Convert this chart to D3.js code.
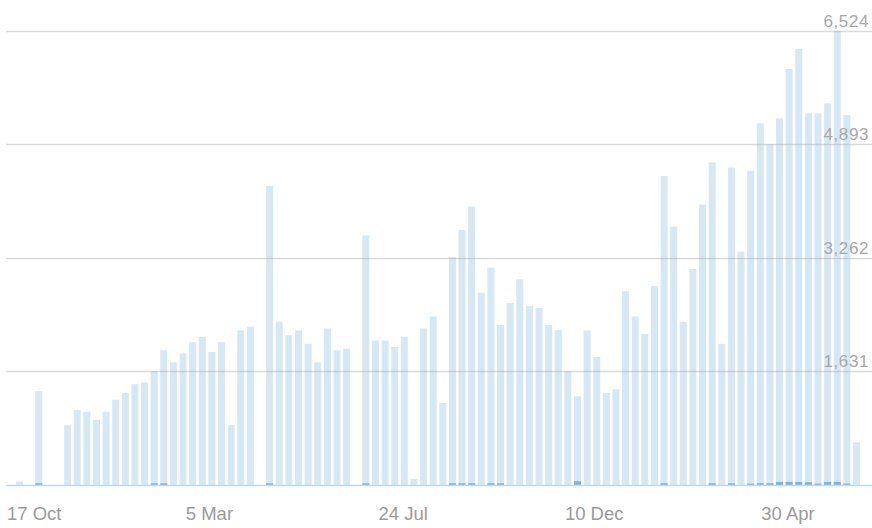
<!DOCTYPE html>
<html>
<head>
<meta charset="utf-8">
<script src="https://cdn.jsdelivr.net/npm/d3@7"></script>
<style>
  body { margin: 0; background: #fff; }
  svg { display: block; }
  .tick-label { font-family: "Liberation Sans", Arial, sans-serif; fill: #9a9a9a; }
</style>
</head>
<body>
<svg id="chart" width="872" height="528"></svg>
<script>
// weekly totals, first week starting 17 Oct 2015
const startDate = new Date(2015, 9, 17);
const totals = [
  53, 0, 1351, 0, 0, 859, 1076, 1052, 936, 1052,
  1226, 1322, 1448, 1472, 1636, 1935, 1761, 1887, 2051, 2128,
  1911, 2051, 859, 2220, 2273, 0, 4295, 2345, 2152, 2220,
  2027, 1761, 2249, 1935, 1959, 0, 3585, 2075, 2075, 1983,
  2128, 87, 2249, 2422, 1177, 3272, 3663, 4000, 2760, 3122,
  2297, 2615, 2953, 2567, 2543, 2297, 2224, 1636, 1274, 2220,
  1838, 1322, 1375, 2784, 2422, 2171, 2857, 4439, 3711, 2345,
  3103, 4029, 4632, 2027, 4560, 3349, 4512, 5192, 4898, 5265,
  5974, 6263, 5337, 5337, 5482, 6524, 5313, 613
];
// small second series drawn at the foot of the bars
const secondary = [
  0, 0, 25, 0, 0, 0, 0, 0, 0, 0,
  0, 0, 0, 0, 25, 25, 0, 0, 0, 0,
  0, 0, 0, 0, 0, 0, 25, 0, 0, 0,
  0, 0, 0, 0, 0, 0, 25, 0, 0, 0,
  0, 0, 0, 0, 0, 25, 25, 25, 0, 25,
  25, 0, 0, 0, 0, 0, 0, 0, 55, 0,
  0, 0, 0, 0, 0, 0, 0, 25, 0, 0,
  0, 0, 25, 0, 25, 0, 20, 25, 25, 45,
  45, 45, 40, 20, 45, 45, 20, 0
];
const yTicks = [1631, 3262, 4893, 6524];
const xTickDates = [
  new Date(2015, 9, 17), new Date(2016, 2, 5), new Date(2016, 6, 24),
  new Date(2016, 11, 10), new Date(2017, 3, 30)
];

const weeks = totals.map((v, i) => d3.timeDay.offset(startDate, i * 7));

const svg = d3.select("#chart");
const width = +svg.attr("width");

const x = d3.scaleBand()
  .domain(d3.range(totals.length))
  .range([16, 860])
  .paddingInner(0.27)
  .paddingOuter(0);

const xt = d3.scaleTime()
  .domain([startDate, d3.timeDay.offset(startDate, totals.length * 7)])
  .range([17, 17 + x.step() * totals.length]);

const y = d3.scaleLinear()
  .domain([0, 6524])
  .range([485, 30.7]);

// bars
svg.append("g")
  .selectAll("rect")
  .data(totals)
  .join("rect")
  .attr("x", (d, i) => x(i))
  .attr("width", x.bandwidth())
  .attr("y", (d) => y(d))
  .attr("height", (d) => y(0) - y(d))
  .attr("fill", "#d7e8f5");

svg.append("g")
  .selectAll("rect")
  .data(secondary)
  .join("rect")
  .attr("x", (d, i) => x(i))
  .attr("width", x.bandwidth())
  .attr("y", (d) => y(d))
  .attr("height", (d) => y(0) - y(d))
  .attr("fill", "#7fb2dd");

// gridlines drawn over the bars
const grid = svg.append("g");
grid.selectAll("line")
  .data(yTicks)
  .join("line")
  .attr("x1", 6)
  .attr("x2", width)
  .attr("y1", (d) => Math.round(y(d)) + 0.5)
  .attr("y2", (d) => Math.round(y(d)) + 0.5)
  .attr("stroke", "rgba(150,150,150,0.35)")
  .attr("stroke-width", 1.5);

grid.selectAll("text")
  .data(yTicks)
  .join("text")
  .attr("class", "tick-label")
  .attr("x", 869)
  .attr("y", (d) => y(d) - 4)
  .attr("text-anchor", "end")
  .style("font-size", "17px")
  .style("letter-spacing", "0.6px")
  .style("fill", "#a8a8a8")
  .text(d3.format(","));

// baseline
svg.append("line")
  .attr("x1", 6)
  .attr("x2", width)
  .attr("y1", y(0) + 0.5)
  .attr("y2", y(0) + 0.5)
  .attr("stroke", "#c3d8e8")
  .attr("stroke-width", 1.5);

// date labels
const fmt = d3.timeFormat("%-d %b");
svg.append("g")
  .selectAll("text")
  .data(xTickDates)
  .join("text")
  .attr("class", "tick-label")
  .attr("x", (d, i) => (i === 0 ? 7 : xt(d)))
  .attr("y", 520)
  .attr("text-anchor", (d, i) => (i === 0 ? "start" : "middle"))
  .style("font-size", "18.5px")
  .text(fmt);
</script>
</body>
</html>
